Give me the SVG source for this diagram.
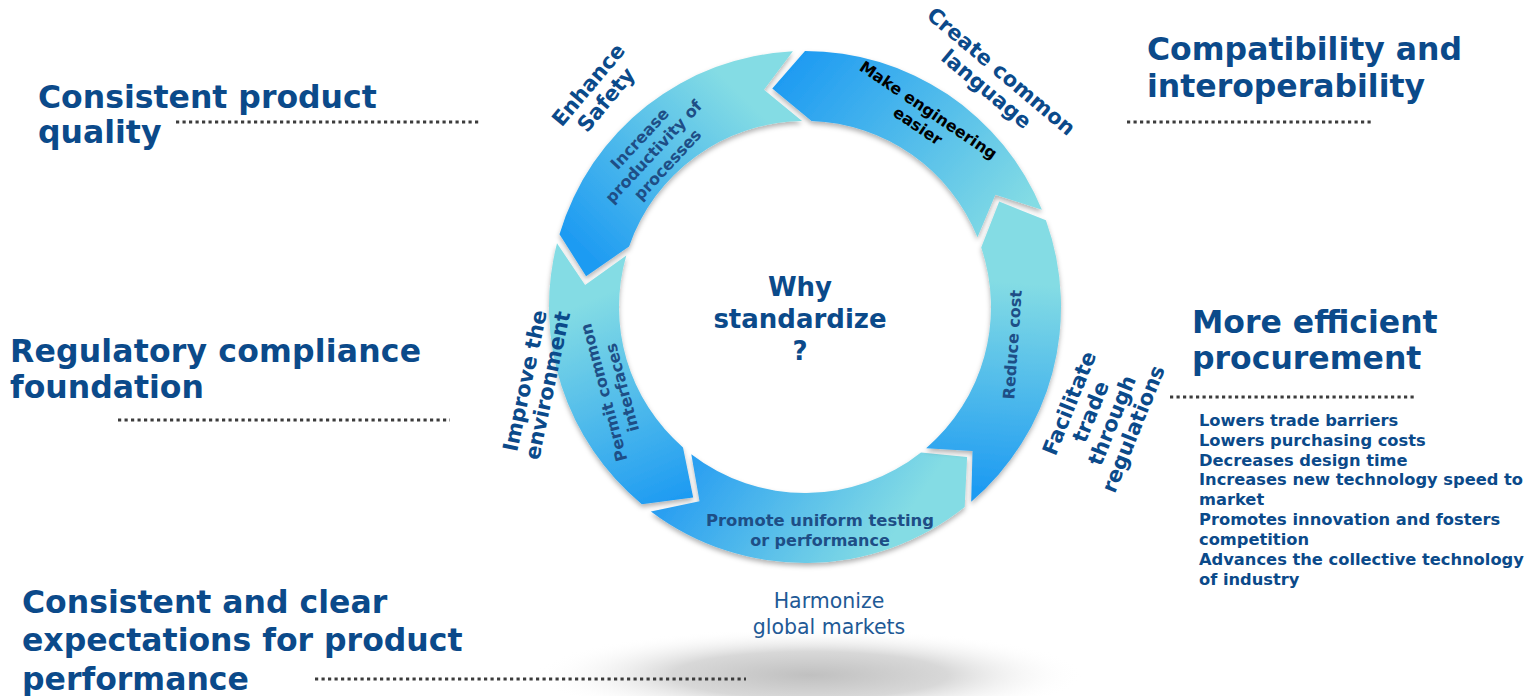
<svg xmlns="http://www.w3.org/2000/svg" width="1536" height="696" viewBox="0 0 1536 696">
<style>
.h{font-family:"DejaVu Sans",Verdana,sans-serif;font-weight:bold;font-size:31.5px;fill:#0B4A8A}
.o{font-family:"DejaVu Sans",Verdana,sans-serif;font-weight:bold;font-size:21px;fill:#0B4A8A}
.i{font-family:"DejaVu Sans",Verdana,sans-serif;font-weight:bold;font-size:16px;fill:#1E4E86}
.l{font-family:"DejaVu Sans",Verdana,sans-serif;font-weight:bold;font-size:16.3px;fill:#0B4A8A}
.dot{stroke:#3C3C3C;stroke-width:3;stroke-dasharray:3.2 3.3;fill:none}
.seg{filter:url(#sh)}
</style>
<defs>
<filter id="sh" x="-20%" y="-20%" width="140%" height="140%">
<feDropShadow dx="0" dy="3" stdDeviation="2.5" flood-color="#000" flood-opacity="0.3"/>
</filter>
<radialGradient id="floor" cx="810" cy="675" r="275" gradientUnits="userSpaceOnUse" gradientTransform="translate(810 675) scale(1 0.17) translate(-810 -675)">
<stop offset="0" stop-color="#c0c0c0"/>
<stop offset="0.5" stop-color="#d8d8d8"/>
<stop offset="1" stop-color="#ffffff" stop-opacity="0"/>
</radialGradient>
<linearGradient id="g1" gradientUnits="userSpaceOnUse" x1="800" y1="55" x2="1010" y2="230"><stop offset="0" stop-color="#1E9BF2"/><stop offset="1" stop-color="#84DCE4"/></linearGradient>
<linearGradient id="g2" gradientUnits="userSpaceOnUse" x1="790" y1="65" x2="595" y2="262"><stop offset="0.2" stop-color="#84DCE4"/><stop offset="1" stop-color="#1E9BF2"/></linearGradient>
<linearGradient id="g3" gradientUnits="userSpaceOnUse" x1="575" y1="265" x2="675" y2="500"><stop offset="0.15" stop-color="#84DCE4"/><stop offset="1" stop-color="#1E9BF2"/></linearGradient>
<linearGradient id="g4" gradientUnits="userSpaceOnUse" x1="700" y1="455" x2="870" y2="570"><stop offset="0" stop-color="#2A9FF1"/><stop offset="1" stop-color="#84DCE4"/></linearGradient>
<linearGradient id="g5" gradientUnits="userSpaceOnUse" x1="1010" y1="230" x2="990" y2="490"><stop offset="0.2" stop-color="#84DCE4"/><stop offset="1" stop-color="#1E9BF2"/></linearGradient>
</defs>
<rect width="1536" height="696" fill="#ffffff"/>
<ellipse cx="810" cy="675" rx="275" ry="47" fill="url(#floor)"/>

<g id="ring">
<g id="seg-make-engineering">
<path class="seg" fill="url(#g1)" d="M1041.9,209.8 A256,256 0 0 0 805,51 L772.3,88.4 L811.5,121.1 A186,186 0 0 1 977.5,237.3 L995.4,194.8 Z"/>
<text class="i" style="fill:#000" transform="translate(923 118) rotate(34)" text-anchor="middle"><tspan x="0" y="-4">Make engineering</tspan><tspan x="0" y="15">easier</tspan></text>
</g>
<g id="seg-increase-productivity">
<path class="seg" fill="url(#g2)" d="M792.9,51.3 A256,256 0 0 0 559.5,234.3 L586.1,276.2 L629.1,246.4 A186,186 0 0 1 802.1,121 L764,89.8 Z"/>
<text class="i" transform="translate(654 152) rotate(-47)" text-anchor="middle"><tspan x="0" y="-14">Increase</tspan><tspan x="0" y="5">productivity of</tspan><tspan x="0" y="24">processes</tspan></text>
</g>
<g id="seg-permit-common">
<path class="seg" fill="url(#g3)" d="M557,243.3 A256,256 0 0 0 641.8,504.2 L693.2,497.6 L683,447.4 A186,186 0 0 1 626.3,255.4 L585.1,285.1 Z"/>
<text class="i" transform="translate(613 390) rotate(-105)" text-anchor="middle"><tspan x="0" y="-4">Permit common</tspan><tspan x="0" y="15">interfaces</tspan></text>
</g>
<g id="seg-promote-uniform">
<path class="seg" fill="url(#g4)" d="M650.9,511.4 A256,256 0 0 0 964.7,507.1 L967.1,457.1 L921,452.4 A186,186 0 0 1 691.3,454.2 L699.5,501.2 Z"/>
<text class="i" text-anchor="middle"><tspan x="820" y="526" textLength="228" lengthAdjust="spacingAndGlyphs">Promote uniform testing</tspan><tspan x="820" y="546">or performance</tspan></text>
</g>
<g id="seg-reduce-cost">
<path class="seg" fill="url(#g5)" d="M971.2,501.7 A256,256 0 0 0 1045.9,220.3 L999.2,201.5 L981.2,247.4 A186,186 0 0 1 926.1,448.2 L972.5,451.1 Z"/>
<text class="i" transform="translate(1018 345) rotate(-86)" text-anchor="middle" x="0" y="0">Reduce cost</text>
</g>
</g>

<g id="center">
<text class="h" style="font-size:26px" text-anchor="middle"><tspan x="800" y="296">Why</tspan><tspan x="800" y="328">standardize</tspan><tspan x="800" y="360">?</tspan></text>
</g>

<g id="outer-labels">
<g id="enhance-safety"><text class="o" transform="translate(597 92) rotate(-50)" text-anchor="middle"><tspan x="0" y="-4">Enhance</tspan><tspan x="0" y="19">Safety</tspan></text></g>
<g id="create-common"><text class="o" transform="translate(994 80) rotate(40)" text-anchor="middle"><tspan x="0" y="-4">Create common</tspan><tspan x="0" y="19">language</tspan></text></g>
<g id="improve-env"><text class="o" transform="translate(536 383) rotate(-78)" text-anchor="middle"><tspan x="0" y="-4">Improve the</tspan><tspan x="0" y="19">environment</tspan></text></g>
<g id="facilitate"><text class="o" transform="translate(1101 416) rotate(-68)" text-anchor="middle"><tspan x="0" y="-27">Facilitate</tspan><tspan x="0" y="-4">trade</tspan><tspan x="0" y="19">through</tspan><tspan x="0" y="42">regulations</tspan></text></g>
<g id="harmonize"><text style="font-family:'DejaVu Sans',Verdana,sans-serif;font-size:20.5px;fill:#1F5A96" text-anchor="middle"><tspan x="829" y="608">Harmonize</tspan><tspan x="829" y="634">global markets</tspan></text></g>
</g>

<g id="benefit-quality">
<text class="h"><tspan x="38" y="108">Consistent product</tspan><tspan x="38" y="143">quality</tspan></text>
</g>
<g id="benefit-compat">
<text class="h"><tspan x="1147" y="60">Compatibility and</tspan><tspan x="1147" y="97">interoperability</tspan></text>
</g>
<g id="benefit-regulatory">
<text class="h"><tspan x="10" y="362" textLength="411">Regulatory compliance</tspan><tspan x="10" y="398">foundation</tspan></text>
</g>
<g id="benefit-procurement">
<text class="h"><tspan x="1192" y="333">More efficient</tspan><tspan x="1192" y="369">procurement</tspan></text>
<text class="l"><tspan x="1199" y="426">Lowers trade barriers</tspan><tspan x="1199" y="446">Lowers purchasing costs</tspan><tspan x="1199" y="466">Decreases design time</tspan><tspan x="1199" y="485">Increases new technology speed to</tspan><tspan x="1199" y="505">market</tspan><tspan x="1199" y="525">Promotes innovation and fosters</tspan><tspan x="1199" y="545">competition</tspan><tspan x="1199" y="565">Advances the collective technology</tspan><tspan x="1199" y="585">of industry</tspan></text>
</g>
<g id="benefit-expectations">
<text class="h"><tspan x="22" y="613">Consistent and clear</tspan><tspan x="22" y="651">expectations for product</tspan><tspan x="22" y="690">performance</tspan></text>
</g>

<g id="connectors">
<line class="dot" x1="176" y1="122" x2="480" y2="122"/>
<line class="dot" x1="1127" y1="122" x2="1371" y2="122"/>
<line class="dot" x1="118" y1="420" x2="450" y2="420"/>
<line class="dot" x1="1170" y1="397" x2="1416" y2="397"/>
<line class="dot" x1="315" y1="679" x2="746" y2="679"/>
</g>
</svg>
